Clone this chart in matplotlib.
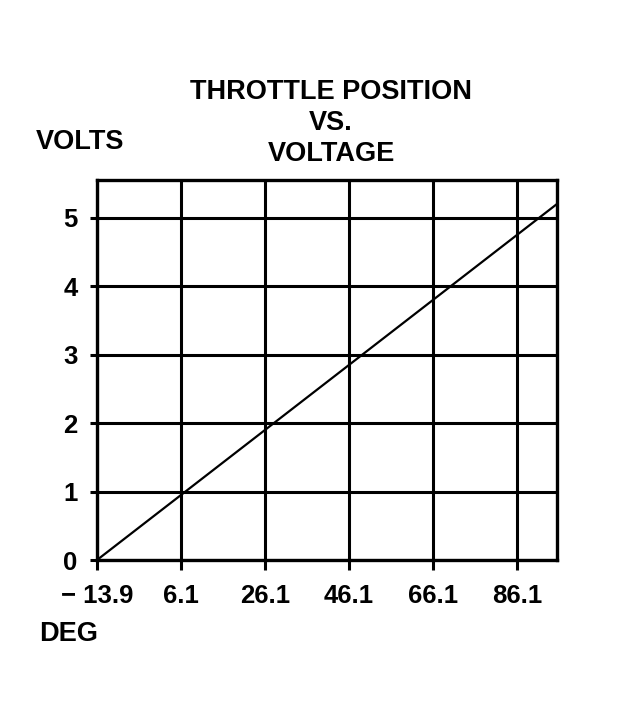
import matplotlib
matplotlib.use("Agg")
import matplotlib.pyplot as plt

plt.rcParams['font.family'] = ['Liberation Sans', 'DejaVu Sans']
plt.rcParams['font.weight'] = 'bold'

# throttle angle (deg) vs sensor output (volts)
deg = [-13.9, 95.6]
volts = [0.0, 5.2]
xticks = [-13.9, 6.1, 26.1, 46.1, 66.1, 86.1]
xlabels = ["\u2212 13.9", "6.1", "26.1", "46.1", "66.1", "86.1"]
yticks = [0, 1, 2, 3, 4, 5]

fig = plt.figure(figsize=(6.24, 7.18), dpi=100)
ax = fig.add_axes([97/624, 1-560/718, 460/624, 380/718])

ax.plot(deg, volts, color='black', lw=1.6, solid_capstyle='butt')
ax.set_xlim(-13.9, 95.6)
ax.set_ylim(0, 5.55)

ax.set_xticks(xticks)
ax.set_xticklabels(xlabels)
ax.set_yticks(yticks)
ax.grid(True, color='black', lw=2.2)
ax.set_axisbelow(True)
for s in ax.spines.values():
    s.set_linewidth(2.4)

ax.tick_params(axis='x', direction='out', length=7, width=2.2, pad=10, labelsize=18.5)
ax.tick_params(axis='y', direction='out', length=5, width=2.2, pad=9, labelsize=18.5)
for lab in ax.get_xticklabels() + ax.get_yticklabels():
    lab.set_fontweight('bold')

fig.text(331/624, 1-123/718, "THROTTLE POSITION\nVS.\nVOLTAGE", ha='center', va='center',
         fontsize=19.5, fontweight='bold', linespacing=1.27)
fig.text(36/624, 1-142/718, "VOLTS", ha='left', va='center', fontsize=19.5, fontweight='bold')
fig.text(39/624, 1-634/718, "DEG", ha='left', va='center', fontsize=19.5, fontweight='bold')

fig.savefig("out.png", dpi=100)
